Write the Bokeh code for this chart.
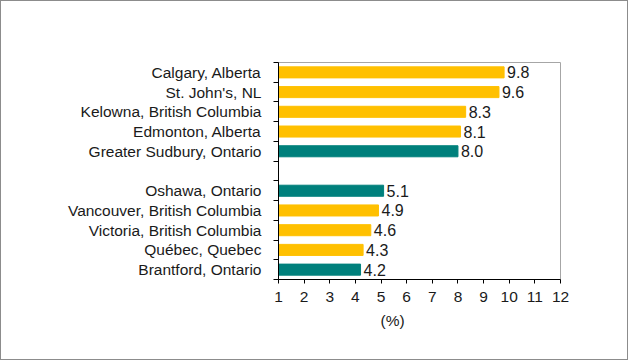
from bokeh.plotting import figure
from bokeh.models import FixedTicker, Title, ColumnDataSource, Range1d
from bokeh.embed import file_html
from bokeh.resources import INLINE
from bokeh.core.properties import value

# ---- data ----
cities = ["Calgary, Alberta", "St. John's, NL", "Kelowna, British Columbia",
          "Edmonton, Alberta", "Greater Sudbury, Ontario",
          "Oshawa, Ontario", "Vancouver, British Columbia",
          "Victoria, British Columbia", "Québec, Quebec", "Brantford, Ontario"]
rates = [9.8, 9.6, 8.3, 8.1, 8.0, 5.1, 4.9, 4.6, 4.3, 4.2]
highlight = [False, False, False, False, True, True, False, False, False, True]
x_ticks = [1, 2, 3, 4, 5, 6, 7, 8, 9, 10, 11, 12]
x_label = "(%)"

YELLOW = "#FFC000"
TEAL = "#00807C"
FONT = "Liberation Sans"

# slots: top group 11..7, blank slot 6, bottom group 5..1
n_top = 5
ypos = []
for i in range(len(cities)):
    ypos.append(11 - i - (1 if i >= n_top else 0))
colors = [TEAL if h else YELLOW for h in highlight]
labels = [f"{v:.1f}" for v in rates]

src = ColumnDataSource(dict(y=ypos, rate=rates, color=colors, label=labels))

p = figure(width=628, height=360, output_backend="svg", toolbar_location=None,
           x_range=Range1d(1, 12), y_range=Range1d(0.5, 11.5),
           min_border_left=277, min_border_right=69,
           min_border_top=61, min_border_bottom=82)
p.styles = {"border": "1px solid #8c8c8c"}

p.hbar(y="y", left=1, right="rate", height=0.56, color="color", source=src)
p.text(x="rate", y="y", text="label", x_offset=3, text_baseline="middle",
       text_align="left", text_font=value(FONT), text_font_size="16px",
       text_color="#1a1a1a", source=src)

p.xgrid.visible = False
p.ygrid.visible = False
p.outline_line_color = "#a6a6a6"
p.outline_line_width = 1

xa = p.xaxis[0]
xa.ticker = FixedTicker(ticks=x_ticks)
xa.major_tick_out = 4
xa.major_tick_in = 0
xa.minor_tick_out = 0
xa.minor_tick_in = 0
xa.axis_line_color = "#000000"
xa.major_tick_line_color = "#000000"
xa.major_label_text_font = FONT
xa.major_label_text_font_size = "15.5px"
xa.major_label_text_color = "#1a1a1a"
xa.major_label_standoff = 8

ya = p.yaxis[0]
ya.ticker = FixedTicker(ticks=ypos, minor_ticks=[k + 0.5 for k in range(12)])
ya.major_label_overrides = {int(y): c for y, c in zip(ypos, cities)}
ya.major_tick_out = 0
ya.major_tick_in = 0
ya.minor_tick_out = 5
ya.minor_tick_in = 0
ya.minor_tick_line_color = "#000000"
ya.axis_line_color = "#000000"
ya.major_label_text_font = FONT
ya.major_label_text_font_size = "15.5px"
ya.major_label_text_color = "#1a1a1a"
ya.major_label_standoff = 12

# x-axis unit label, sitting left of centre as in the reference
p.add_layout(Title(text=x_label, align="left", offset=102, standoff=10,
                   text_font=FONT, text_font_size="15.5px",
                   text_font_style="normal", text_color="#1a1a1a"), "below")

open("out.html", "w").write(file_html(p, INLINE))
